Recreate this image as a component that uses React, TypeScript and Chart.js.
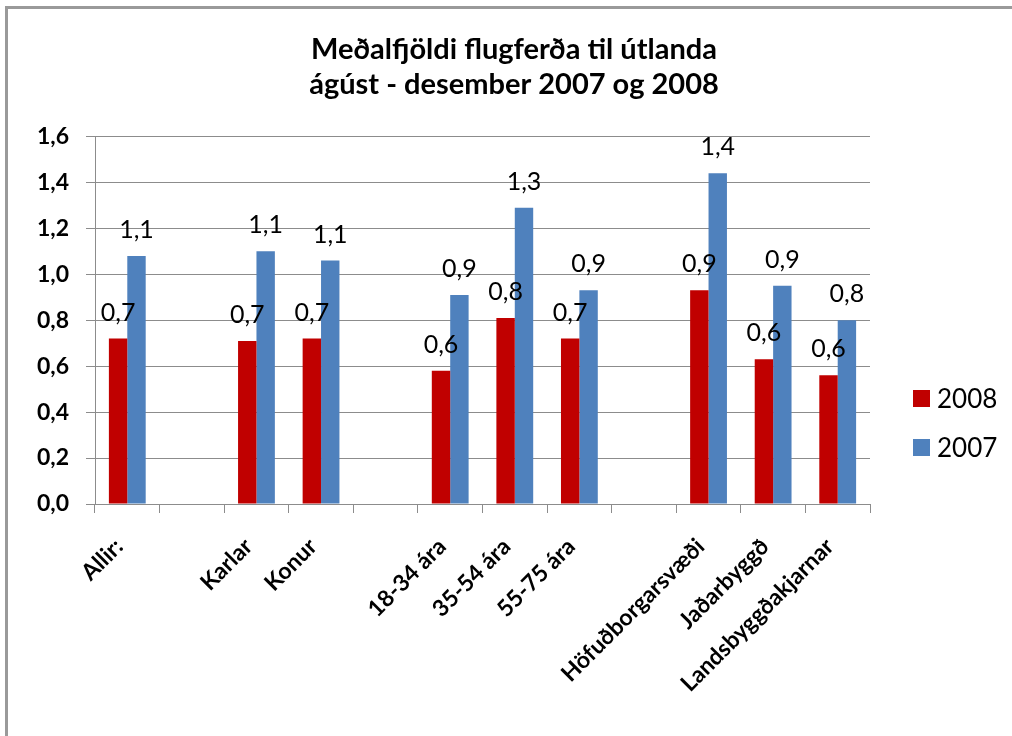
import React, { useEffect, useRef } from "react";
import { Chart, registerables } from "chart.js";

Chart.register(...registerables);

const categories = [
  "Allir:",
  "",
  "Karlar",
  "Konur",
  "",
  "18-34 ára",
  "35-54 ára",
  "55-75 ára",
  "",
  "Höfuðborgarsvæði",
  "Jaðarbyggð",
  "Landsbyggðakjarnar",
];
const values2008 = [0.72, null, 0.71, 0.72, null, 0.58, 0.81, 0.72, null, 0.93, 0.63, 0.56];
const values2007 = [1.08, null, 1.1, 1.06, null, 0.91, 1.29, 0.93, null, 1.44, 0.95, 0.8];
const seriesNames = ["2008", "2007"];
const seriesColors = ["#C00000", "#4F81BD"];
const titleLines = ["Meðalfjöldi flugferða til útlanda", "ágúst - desember 2007 og 2008"];
const yTickMin = 0;
const yTickMax = 1.6;
const yTickStep = 0.2;

const FONT = "Lato, 'Open Sans', sans-serif";
const GRID = "#8c8c8c";

const fmt = (v: number) => v.toFixed(1).replace(".", ",");

const valueLabels = {
  id: "valueLabels",
  afterDatasetsDraw(chart: any) {
    const ctx = chart.ctx;
    ctx.save();
    ctx.font = `25px ${FONT}`;
    ctx.fillStyle = "#000";
    ctx.textAlign = "center";
    ctx.textBaseline = "middle";
    chart.data.datasets.forEach((ds: any, i: number) => {
      const meta = chart.getDatasetMeta(i);
      meta.data.forEach((el: any, j: number) => {
        const v = ds.data[j];
        if (v === null || v === undefined) return;
        ctx.fillText(fmt(v), el.x, el.y - 26);
      });
    });
    ctx.restore();
  },
};

export default function App() {
  const ref = useRef<HTMLCanvasElement | null>(null);

  useEffect(() => {
    let chart: Chart | null = null;
    let cancelled = false;
    const make = () => {
      if (cancelled || !ref.current) return;
      chart = new Chart(ref.current, {
        type: "bar",
        data: {
          labels: categories,
          datasets: [
            {
              label: seriesNames[0],
              data: values2008,
              backgroundColor: seriesColors[0],
              categoryPercentage: 0.57,
              barPercentage: 1,
            },
            {
              label: seriesNames[1],
              data: values2007,
              backgroundColor: seriesColors[1],
              categoryPercentage: 0.57,
              barPercentage: 1,
            },
          ],
        },
        options: {
          responsive: false,
          animation: false,
          layout: { padding: { right: 0, left: 16, bottom: 0, top: 0 } },
          plugins: {
            legend: { display: false },
            tooltip: { enabled: false },
            title: {
              display: true,
              text: titleLines,
              color: "#000",
              font: { family: FONT, size: 29, weight: "bold", lineHeight: 1.18 },
              padding: { top: 33, bottom: 35 },
            },
          },
          scales: {
            x: {
              grid: {
                display: true,
                drawOnChartArea: false,
                drawTicks: true,
                tickLength: 9,
                color: GRID,
                offset: true,
              },
              border: { display: true, color: GRID, width: 1 },
              ticks: {
                autoSkip: false,
                maxRotation: 45,
                minRotation: 45,
                padding: 20,
                labelOffset: -8,
                color: "#000",
                font: { family: FONT, size: 23, weight: "bold" },
              },
              afterFit(scale: any) {
                scale.height = 232;
              },
            },
            y: {
              min: yTickMin,
              max: yTickMax,
              ticks: {
                stepSize: yTickStep,
                padding: 17,
                color: "#000",
                font: { family: FONT, size: 23, weight: "bold" },
                callback: (v: any) => fmt(Number(v)),
              },
              grid: { color: GRID, tickLength: 9, lineWidth: 1 },
              border: { display: true, color: GRID, width: 1 },
              afterFit(scale: any) {
                scale.width = 79;
              },
            },
            legendSpace: {
              type: "linear",
              position: "right",
              display: true,
              grid: { display: false, drawTicks: false },
              border: { display: false },
              ticks: { display: false },
              afterFit(scale: any) {
                scale.width = 142;
              },
            },
          },
        },
        plugins: [valueLabels],
      });
    };
    const fonts: any = (document as any).fonts;
    if (fonts && fonts.load) {
      Promise.all([fonts.load(`bold 22px Lato`), fonts.load(`22px Lato`)])
        .catch(() => null)
        .then(make);
    } else {
      make();
    }
    return () => {
      cancelled = true;
      if (chart) chart.destroy();
    };
  }, []);

  return (
    <div
      style={{
        position: "fixed",
        left: 0,
        top: 0,
        width: 1012,
        height: 736,
        background: "#fff",
        overflow: "hidden",
      }}
    >
      <div
        style={{
          position: "absolute",
          left: 5,
          top: 6,
          width: 1100,
          height: 800,
          borderTop: "3px solid #9a9a9a",
          borderLeft: "3px solid #9a9a9a",
          boxSizing: "border-box",
        }}
      />
      <canvas
        ref={ref}
        width={1012}
        height={736}
        style={{ position: "absolute", left: 0, top: 0, width: 1012, height: 736 }}
      />
      {seriesNames.map((name, i) => (
        <div
          key={name}
          style={{
            position: "absolute",
            left: 913,
            top: 398 + i * 49 - 15,
            height: 30,
            display: "flex",
            alignItems: "center",
            fontFamily: FONT,
            fontSize: 26,
            color: "#000",
          }}
        >
          <span
            style={{
              display: "inline-block",
              width: 17,
              height: 17,
              background: seriesColors[i],
              marginRight: 7,
            }}
          />
          {name}
        </div>
      ))}
    </div>
  );
}
